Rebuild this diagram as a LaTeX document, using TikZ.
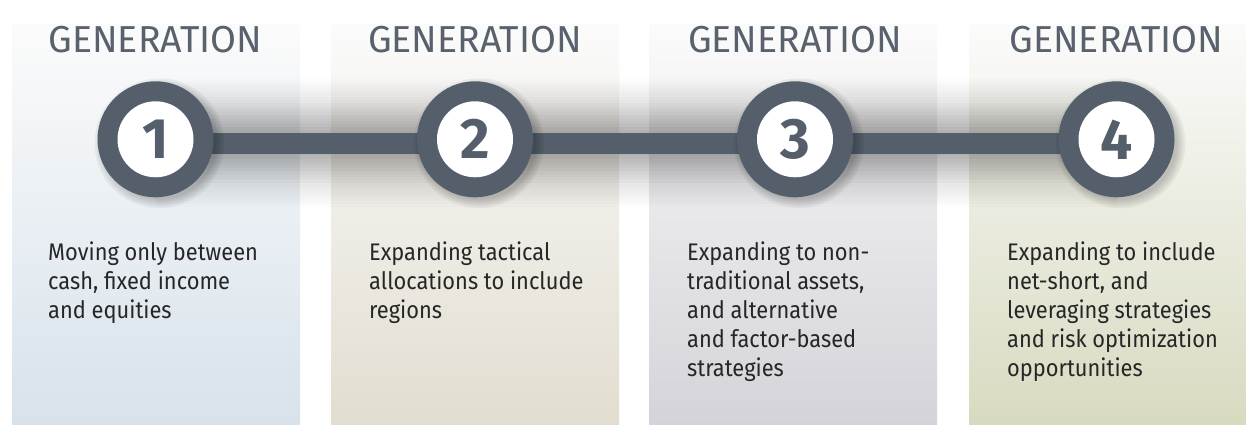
\documentclass[tikz,border=0pt]{standalone}
\usepackage{fontspec}
\setmainfont{Fira Sans}
\newfontfamily\bodyfont{Fira Sans}[FakeStretch=0.91]
\usetikzlibrary{positioning,backgrounds}
\definecolor{ring}{HTML}{545F6B}
\definecolor{headc}{HTML}{58616C}
\definecolor{bodyc}{HTML}{262626}
\definecolor{panetop}{HTML}{FBFBFB}
\definecolor{paneA}{HTML}{D7E2EB}
\definecolor{paneB}{HTML}{E2DDD0}
\definecolor{paneC}{HTML}{D3D3D9}
\definecolor{paneD}{HTML}{D8DAC0}

\begin{document}
\begin{tikzpicture}[x=1pt, y=1pt,
  pane/.style={minimum width=288pt, minimum height=400pt, inner sep=0, anchor=south west, top color=panetop},
  ringc/.style={circle, fill=ring, minimum size=116pt, inner sep=0},
  num/.style={circle, fill=white, minimum size=76pt, inner sep=0, text=ring, font=\fontsize{57}{57}\selectfont\bfseries},
  head/.style={inner sep=0, text=headc, font=\fontsize{37.5}{40}\selectfont},
  body/.style={anchor=north west, align=left, inner sep=0, text=bodyc, font=\bodyfont\fontsize{24}{29}\selectfont},
  bar/.style={draw=ring, line width=21pt},
  haze/.style={fill=black, fill opacity=0.013}]
  \useasboundingbox (0,0) rectangle (1246,425);

  % coloured columns
  \begin{scope}[on background layer]
    \fill[white] (0,0) rectangle (1246,425);
    \node[pane, bottom color=paneA] (p1) at (12,0) {};
    \node[pane, bottom color=paneB] (p2) at (331,0) {};
    \node[pane, bottom color=paneC] (p3) at (649,0) {};
    \node[pane, bottom color=paneD, minimum width=277pt] (p4) at (969,0) {};
  \end{scope}

  % generation markers
  \node[ringc] (g1) at (155.5,285.7) {};
  \node[num] (n1) at (g1) {1};
  \node[ringc] (g2) at (475,285.7) {};
  \node[num] (n2) at (g2) {2};
  \node[ringc] (g3) at (795,285.7) {};
  \node[num] (n3) at (g3) {3};
  \node[ringc] (g4) at (1116.5,285.7) {};
  \node[num] (n4) at (g4) {4};

  \node[head, above=28pt of g1] (h1) {GENERATION};
  \node[head, above=28pt of g2] (h2) {GENERATION};
  \node[head, above=28pt of g3] (h3) {GENERATION};
  \node[head, above=28pt of g4] (h4) {GENERATION};

  \node[body] (t1) at ([xshift=36pt, yshift=-217pt]p1.north west) {Moving only between\\cash, fixed income\\and equities};
  \node[body] (t2) at ([xshift=38pt, yshift=-217pt]p2.north west) {Expanding tactical\\allocations to include\\regions};
  \node[body] (t3) at ([xshift=38pt, yshift=-217pt]p3.north west) {Expanding to non-\\traditional assets,\\and alternative\\and factor-based\\strategies};
  \node[body] (t4) at ([xshift=38pt, yshift=-217pt]p4.north west) {Expanding to include\\net-short, and\\leveraging strategies\\and risk optimization\\opportunities};

  % timeline bar, its soft shadow and the shadows under the markers
  \begin{scope}[on background layer]
    \foreach \h in {64,61,...,13}
      \fill[haze] ([yshift=-4pt-\h pt]g1.center) rectangle ([yshift=-4pt+\h pt]g4.center);
    \foreach \h in {40,36,...,12}
      \fill[haze] ([yshift=-4pt-\h pt]g1.center) rectangle ([yshift=-4pt+\h pt]g4.center);
    \draw[bar] ([yshift=-4pt]g1.center) -- ([yshift=-4pt]g2.center);
    \draw[bar] ([yshift=-4pt]g2.center) -- ([yshift=-4pt]g3.center);
    \draw[bar] ([yshift=-4pt]g3.center) -- ([yshift=-4pt]g4.center);
    \foreach \g in {g1,g2,g3,g4}
      \foreach \r in {65,63,...,57}
        \fill[black, fill opacity=0.045] ([xshift=4pt, yshift=-4pt]\g.center) circle (\r);
  \end{scope}
\end{tikzpicture}
\end{document}
